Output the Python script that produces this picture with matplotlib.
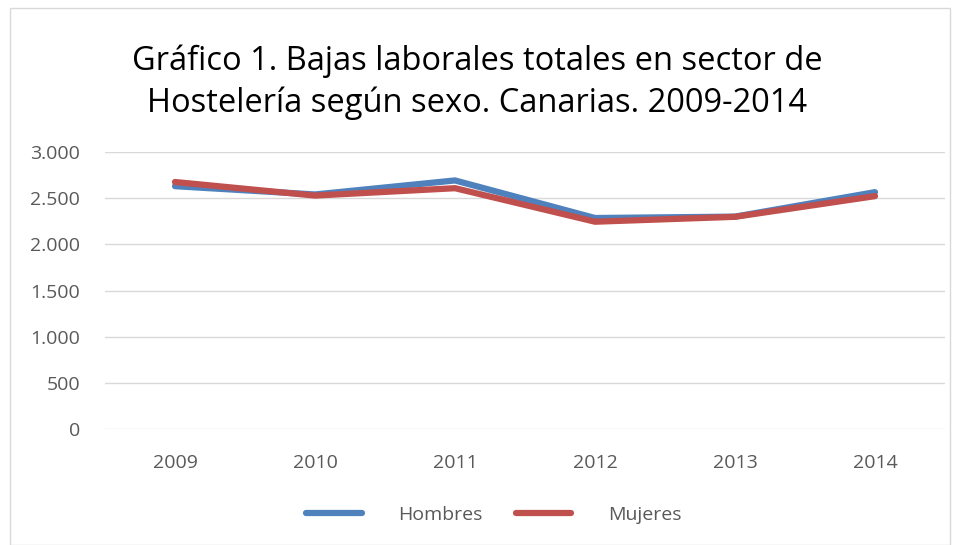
import matplotlib.pyplot as plt
from matplotlib.patches import Rectangle

plt.rcParams["font.family"] = ["Open Sans", "DejaVu Sans"]

years = ["2009", "2010", "2011", "2012", "2013", "2014"]
hombres = [2630, 2540, 2692, 2285, 2300, 2565]
mujeres = [2675, 2528, 2608, 2245, 2298, 2522]

W, H = 955, 545
fig = plt.figure(figsize=(W / 100, H / 100), dpi=100)
# marco del gráfico
fig.patches.append(Rectangle((10 / W, 0), 940 / W, 537 / H, transform=fig.transFigure,
                             fill=False, edgecolor="#d9d9d9", linewidth=1))

ax = fig.add_axes([105 / W, 1 - 429 / H, 840 / W, 277 / H])
x = range(len(years))
ax.plot(x, hombres, color="#4f81bd", linewidth=4.5, solid_capstyle="round", label="Hombres")
ax.plot(x, mujeres, color="#c0504d", linewidth=4.5, solid_capstyle="round", label="Mujeres")

ax.set_xlim(-0.5, len(years) - 0.5)
ax.set_ylim(0, 3000)
ax.set_yticks(range(0, 3001, 500))
ax.set_yticklabels([f"{v:,}".replace(",", ".") for v in range(0, 3001, 500)])
ax.set_xticks(list(x))
ax.set_xticklabels(years)
ax.tick_params(axis="both", length=0, labelsize=14, colors="#595959")
ax.tick_params(axis="x", pad=18)
ax.tick_params(axis="y", pad=18)
ax.grid(axis="y", color="#d9d9d9", linewidth=1)
ax.set_axisbelow(True)
for s in ax.spines.values():
    s.set_visible(False)

fig.suptitle("Gráfico 1. Bajas laborales totales en sector de\nHostelería según sexo. Canarias. 2009-2014",
             y=1 - 44 / H, fontsize=23.5, linespacing=1.35, va="top")

fig.legend(loc="center", bbox_to_anchor=(494 / W, 1 - 515 / H), ncol=2, frameon=False,
           fontsize=14, labelcolor="#595959", handlelength=2.85, columnspacing=1.7, handletextpad=1.9)

fig.savefig("out.png", dpi=100)
